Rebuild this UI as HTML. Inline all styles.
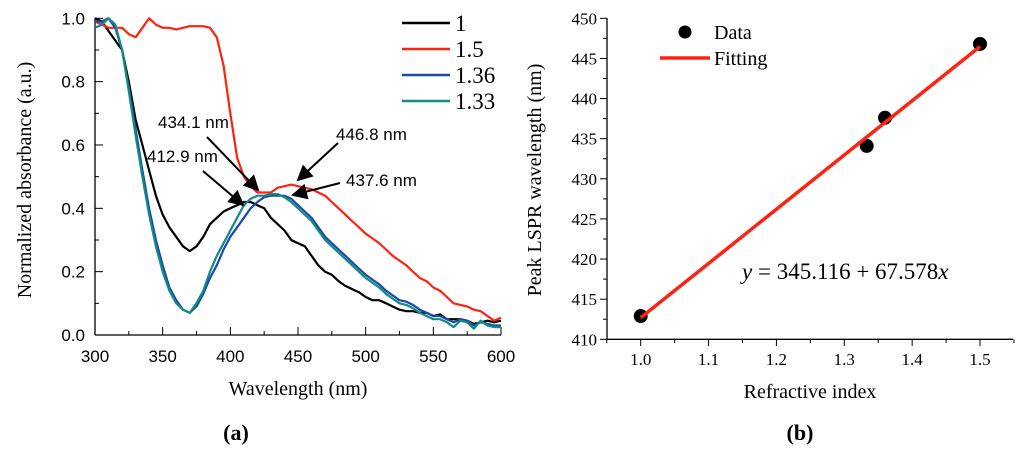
<!DOCTYPE html>
<html><head><meta charset="utf-8"><style>
body{margin:0;background:#fff}
svg{display:block}
.t{font-family:"Liberation Sans",sans-serif;font-size:17px;fill:#000}
.s{font-family:"Liberation Serif",serif;fill:#000}
</style></head><body>
<svg id="svg" width="1024" height="449" viewBox="0 0 1024 449" xmlns="http://www.w3.org/2000/svg">
<g id="A"></g>
<g id="B"></g>
<text class="s" x="236" y="440" font-size="22" font-weight="bold" text-anchor="middle">(a)</text>
<text class="s" x="800" y="440" font-size="22" font-weight="bold" text-anchor="middle">(b)</text>
</svg>
<script>
const wl=[300,305,310,315,320,325,330,335,340,345,350,355,360,365,370,375,380,385,390,395,400,405,410,415,420,425,430,435,440,445,450,455,460,465,470,475,480,485,490,495,500,505,510,515,520,525,530,535,540,545,550,555,560,565,570,575,580,585,590,595,600];
const s1=[1.0,0.99,0.96,0.93,0.9,0.8,0.68,0.6,0.52,0.44,0.38,0.34,0.31,0.28,0.265,0.28,0.31,0.35,0.37,0.39,0.40,0.41,0.42,0.42,0.41,0.40,0.37,0.35,0.33,0.30,0.29,0.28,0.25,0.22,0.20,0.19,0.17,0.155,0.145,0.135,0.12,0.11,0.11,0.10,0.09,0.08,0.075,0.075,0.07,0.07,0.06,0.065,0.05,0.05,0.05,0.045,0.035,0.04,0.045,0.04,0.045];
const s15=[0.99,0.98,0.97,0.97,0.97,0.95,0.94,0.97,1.0,0.98,0.97,0.97,0.965,0.97,0.975,0.975,0.975,0.97,0.94,0.85,0.7,0.56,0.5,0.47,0.45,0.45,0.45,0.465,0.47,0.475,0.47,0.465,0.46,0.45,0.44,0.42,0.40,0.38,0.36,0.34,0.32,0.305,0.29,0.27,0.25,0.235,0.22,0.20,0.18,0.17,0.15,0.14,0.12,0.10,0.095,0.09,0.08,0.075,0.06,0.045,0.055];
const s136=[0.99,0.99,1.0,0.97,0.9,0.78,0.65,0.52,0.4,0.3,0.22,0.15,0.11,0.08,0.07,0.09,0.13,0.18,0.22,0.27,0.31,0.34,0.37,0.40,0.42,0.435,0.44,0.44,0.44,0.43,0.41,0.39,0.37,0.34,0.31,0.29,0.27,0.25,0.23,0.21,0.19,0.175,0.16,0.14,0.125,0.11,0.105,0.095,0.08,0.07,0.06,0.06,0.05,0.04,0.05,0.045,0.03,0.04,0.035,0.03,0.03];
const s133=[0.97,0.98,1.0,0.98,0.9,0.77,0.63,0.5,0.38,0.28,0.2,0.14,0.1,0.08,0.07,0.1,0.14,0.2,0.25,0.29,0.33,0.37,0.41,0.43,0.44,0.44,0.445,0.445,0.435,0.42,0.40,0.38,0.36,0.33,0.30,0.28,0.26,0.24,0.22,0.20,0.18,0.165,0.15,0.13,0.115,0.10,0.095,0.085,0.07,0.06,0.05,0.05,0.04,0.025,0.045,0.04,0.02,0.045,0.03,0.025,0.025];
const seriesNames=["1","1.5","1.36","1.33"];
const seriesColors=["#000","#f21","#1a4aa8","#138a86"];
const peakLabels=["434.1 nm","412.9 nm","446.8 nm","437.6 nm"];
const ridx=[1.0,1.333,1.36,1.5];
const peak=[412.9,434.1,437.6,446.8];
const fitA=345.116, fitB=67.578;
const NS="http://www.w3.org/2000/svg";
function mk(p,tag,at,txt){const e=document.createElementNS(NS,tag);for(const k in at)e.setAttribute(k,at[k]);if(txt!=null)e.textContent=txt;p.appendChild(e);return e;}
// Chart A
const A=document.getElementById('A');
const ax=v=>95+(v-300)/300*406, ay=v=>335-v*316.7;
mk(A,'line',{x1:95,y1:335,x2:501,y2:335,stroke:'#000','stroke-width':1.3});
mk(A,'line',{x1:95,y1:335,x2:95,y2:18,stroke:'#000','stroke-width':1.3});
for(let v=300;v<=600;v+=25){mk(A,'line',{x1:ax(v),x2:ax(v),y1:335,y2:v%50?331:327,stroke:'#000'});}
for(let v=300;v<=600;v+=50){const t=mk(A,'text',{class:'t',x:ax(v),y:362,'text-anchor':'middle'},v);}
for(let i=0;i<=10;i++){const v=i/10;mk(A,'line',{x1:95,x2:i%2?99:103,y1:ay(v),y2:ay(v),stroke:'#000'});}
for(let i=0;i<=5;i++){const v=i*0.2;const t=mk(A,'text',{class:'t',x:85,y:ay(v)+6,'text-anchor':'end'},v.toFixed(1));}
let tt=mk(A,'text',{class:'s',x:298,y:395,'font-size':20,'text-anchor':'middle'},'Wavelength (nm)');
tt=mk(A,'text',{class:'s','font-size':20,'text-anchor':'middle',transform:'translate(31,180) rotate(-90)'},'Normalized absorbance (a.u.)');
const all=[s1,s15,s136,s133];
all.forEach((s,k)=>{const d=s.map((v,i)=>(i?'L':'M')+ax(wl[i]).toFixed(1)+','+ay(v).toFixed(1)).join('');
 const p=mk(A,'path',{d,fill:'none',stroke:seriesColors[k],'stroke-width':2.2,'stroke-linejoin':'round'});
 const y=23+k*26;mk(A,'line',{x1:402,x2:450,y1:y,y2:y,stroke:seriesColors[k],'stroke-width':2.5});
 const t=mk(A,'text',{class:'s',x:455,y:y+8,'font-size':23},seriesNames[k]);});
mk(A,'defs',{}).innerHTML='<marker id="ar" markerWidth="8" markerHeight="8" refX="7" refY="4" orient="auto"><path d="M0,0L8,4L0,8z" fill="#000"/></marker>';
const arr=[[158,128,207,137,258,190],[147,162,203,171,243,205],[336,140,338,143,298,180],[346,186,340,183,293,195]];
arr.forEach((a,i)=>{const t=mk(A,'text',{class:'t','font-size':15,x:a[0],y:a[1]},peakLabels[i]);
 mk(A,'line',{x1:a[2],y1:a[3],x2:a[4],y2:a[5],stroke:'#000','stroke-width':2,'marker-end':'url(#ar)'});});
// Chart B
const B=document.getElementById('B');
const bx=v=>640.7+(v-1.0)/0.5*339.3, by=v=>339.3-(v-410)/40*321;
mk(B,'line',{x1:607,y1:339.3,x2:1013,y2:339.3,stroke:'#000','stroke-width':1.3});
mk(B,'line',{x1:607,y1:339.3,x2:607,y2:18,stroke:'#000','stroke-width':1.3});
for(let i=-1;i<=11;i++){const v=1+i*0.05;if(bx(v)>1014)continue;mk(B,'line',{x1:bx(v),x2:bx(v),y1:339.3,y2:i%2?343:346,stroke:'#000'});}
for(let i=0;i<=5;i++){const v=1+i*0.1;const t=mk(B,'text',{class:'s','font-size':17,x:bx(v),y:365,'text-anchor':'middle'},v.toFixed(1));}
for(let i=0;i<=16;i++){const v=410+i*2.5;mk(B,'line',{x1:607,x2:i%2?603:600,y1:by(v),y2:by(v),stroke:'#000'});}
for(let v=410;v<=450;v+=5){const t=mk(B,'text',{class:'s','font-size':17,x:597,y:by(v)+6,'text-anchor':'end'},v);}
tt=mk(B,'text',{class:'s',x:810,y:398,'font-size':20,'text-anchor':'middle'},'Refractive index');
tt=mk(B,'text',{class:'s','font-size':20,'text-anchor':'middle',transform:'translate(541,180) rotate(-90)'},'Peak LSPR wavelength (nm)');
ridx.forEach((r,i)=>{const c=mk(B,'circle',{cx:bx(r),cy:by(peak[i]),r:7,fill:'#000'});});
const fl=mk(B,'line',{x1:bx(1.0),y1:by(fitA+fitB*1.0),x2:bx(1.5),y2:by(fitA+fitB*1.5),stroke:'#f21','stroke-width':3.5});

mk(B,'circle',{cx:685,cy:32,r:6.5,fill:'#000'});
tt=mk(B,'text',{class:'s','font-size':20,x:714,y:39},'Data');
mk(B,'line',{x1:660,x2:710,y1:58,y2:58,stroke:'#f21','stroke-width':3.5});
tt=mk(B,'text',{class:'s','font-size':20,x:714,y:65},'Fitting');
tt=mk(B,'text',{class:'s','font-size':23,x:742,y:279});tt.innerHTML='<tspan font-style="italic">y</tspan> = 345.116 + 67.578<tspan font-style="italic">x</tspan>';

</script>
</body></html>
